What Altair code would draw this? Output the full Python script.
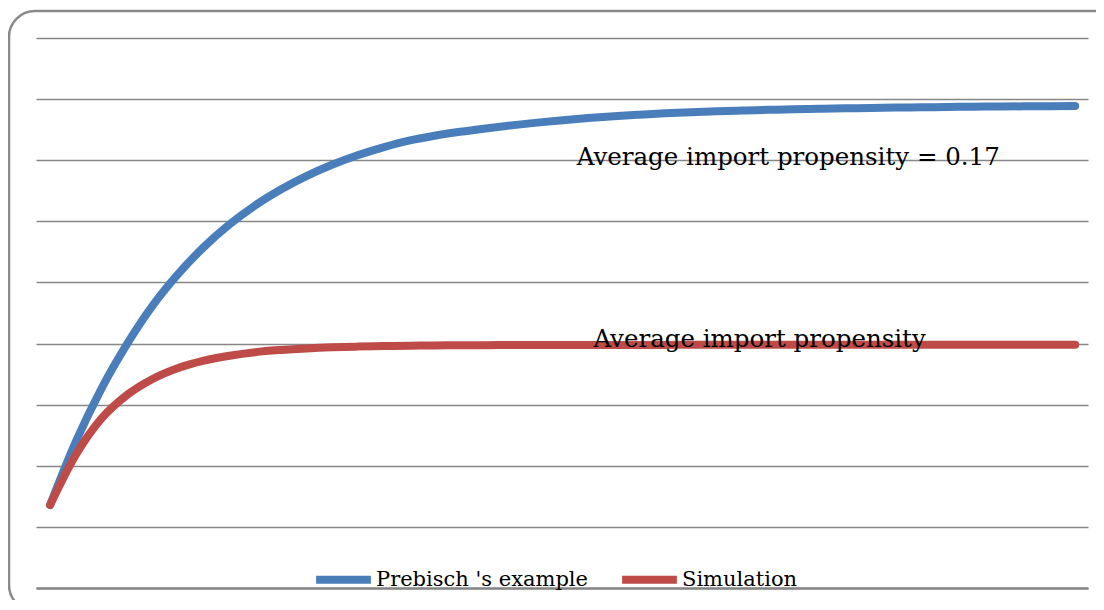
import altair as alt
import pandas as pd

# period index (category positions)
periods = list(range(41))

prebisch = [1.358, 2.390, 3.260, 3.990, 4.620, 5.140, 5.580, 5.950, 6.260, 6.520,
            6.740, 6.925, 7.080, 7.210, 7.320, 7.400, 7.465, 7.520, 7.570, 7.615,
            7.655, 7.690, 7.720, 7.745, 7.767, 7.785, 7.800, 7.813, 7.824, 7.834,
            7.842, 7.849, 7.855, 7.861, 7.866, 7.871, 7.875, 7.879, 7.882, 7.885,
            7.887]

simulation = [1.358, 2.176, 2.770, 3.158, 3.420, 3.600, 3.720, 3.801, 3.859, 3.895,
              3.921, 3.939, 3.950, 3.958, 3.965, 3.968, 3.972, 3.974, 3.975, 3.976,
              3.977, 3.977, 3.978, 3.978, 3.978, 3.979, 3.979, 3.979, 3.979, 3.980,
              3.980, 3.980, 3.980, 3.980, 3.980, 3.980, 3.980, 3.980, 3.980, 3.980,
              3.980]

series_names = ["Prebisch 's example", "Simulation"]
series_colors = ["#4A7EBB", "#BE4B48"]

annot_text = ["Average import propensity = 0.17", "Average import propensity"]
annot_x = [20.55, 21.2]
annot_y = [6.93, 3.95]

rows = []
for t, a, b in zip(periods, prebisch, simulation):
    rows.append({"t": t, "value": a, "series": series_names[0]})
    rows.append({"t": t, "value": b, "series": series_names[1]})
df = pd.DataFrame(rows)

W, H = 1052, 550
xscale = alt.Scale(domain=[-0.55, 40.5], nice=False, zero=False)
yscale = alt.Scale(domain=[0, 9], nice=False, zero=False)

base = alt.Chart(df)

lines = base.mark_line(strokeWidth=8, strokeCap="round", strokeJoin="round",
                       interpolate="monotone").encode(
    x=alt.X("t:Q", scale=xscale,
            axis=alt.Axis(title=None, labels=False, ticks=False, grid=False,
                          domain=True, domainColor="#878787", domainWidth=2.5)),
    y=alt.Y("value:Q", scale=yscale,
            axis=alt.Axis(title=None, labels=False, ticks=False, domain=False,
                          grid=True, values=list(range(10)),
                          gridColor="#878787", gridWidth=1.3)),
    color=alt.Color("series:N",
                    scale=alt.Scale(domain=series_names, range=series_colors),
                    legend=alt.Legend(title=None, orient="none", direction="horizontal",
                                      legendX=276, legendY=510,
                                      symbolType="stroke", symbolSize=3000,
                                      symbolStrokeWidth=8, columnPadding=17,
                                      labelOffset=1, padding=0,
                                      labelFont="DejaVu Serif", labelFontSize=21,
                                      labelColor="#000000", labelLimit=400)),
    order="t:Q",
)

annot_df = pd.DataFrame({"text": annot_text, "x": annot_x, "y": annot_y})
annots = alt.Chart(annot_df).mark_text(
    align="left", baseline="alphabetic", font="DejaVu Serif", fontSize=24.5,
    color="#000000").encode(
    x=alt.X("x:Q", scale=xscale),
    y=alt.Y("y:Q", scale=yscale),
    text="text:N",
)

border = alt.Chart(pd.DataFrame({"k": [0]})).mark_rect(
    fillOpacity=0, stroke="#8a8a8a", strokeWidth=2.5, cornerRadius=26).encode(
    x=alt.value(-27), x2=alt.value(W + 40),
    y=alt.value(-27), y2=alt.value(H + 23),
)

chart = alt.layer(border, lines, annots).properties(
    width=W, height=H,
    padding={"left": 28, "top": 30, "right": 8, "bottom": 12},
    autosize=alt.AutoSizeParams(type="none"),
).configure_view(stroke=None)

chart.save("out.html", embed_options={"renderer": "svg", "actions": False})
